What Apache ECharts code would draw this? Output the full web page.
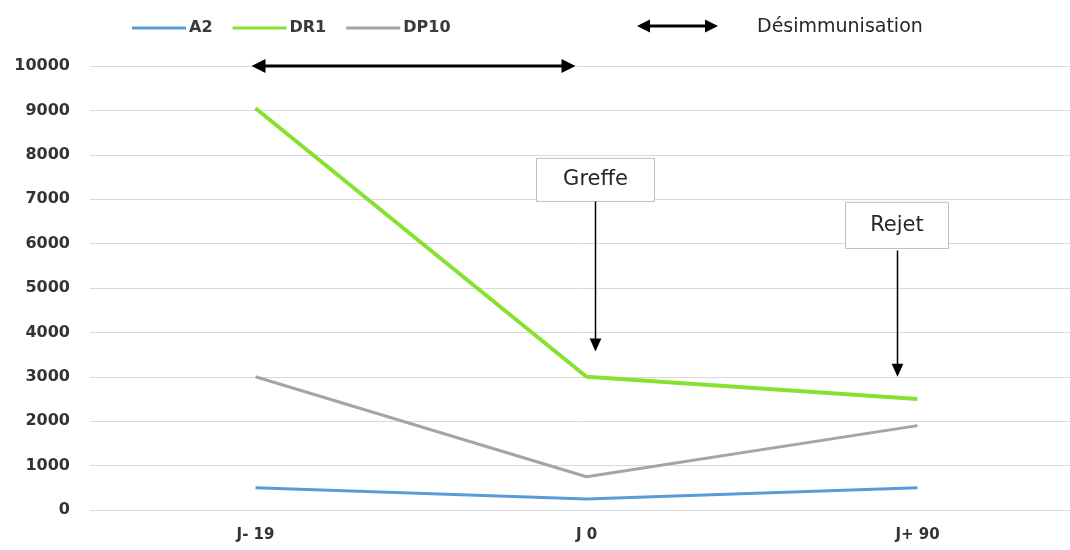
<!DOCTYPE html>
<html>
<head>
<meta charset="utf-8">
<script src="https://cdn.jsdelivr.net/npm/echarts@6/dist/echarts.min.js"></script>
<style>
html,body{margin:0;padding:0;background:#fff;}
#c{width:1070px;height:550px;}
</style>
</head>
<body>
<div id="c"></div>
<script>
const categories = ['J- 19', 'J 0', 'J+ 90'];
const a2Values = [500, 250, 500];
const dr1Values = [9050, 3000, 2500];
const dp10Values = [3000, 750, 1900];
const legendNames = ['A2', 'DR1', 'DP10'];
const legendExtra = 'Désimmunisation';
const annotations = ['Greffe', 'Rejet'];

const FONT = "'DejaVu Sans', sans-serif";
const chart = echarts.init(document.getElementById('c'), null, {renderer: 'canvas'});

const option = {
  backgroundColor: '#ffffff',
  animation: false,
  grid: {left: 90, top: 66, right: -13, bottom: 40, containLabel: false, outerBoundsMode: 'none'},
  legend: {
    data: legendNames.map(n => ({name: n, icon: 'rect'})),
    left: 127, top: 15,
    itemWidth: 54, itemHeight: 3, itemGap: 20,
    textStyle: {fontFamily: FONT, fontSize: 16, fontWeight: 'bold', color: '#3a3a3a', padding: [0, 0, 0, -2]}
  },
  xAxis: {
    type: 'category', data: categories, boundaryGap: true,
    axisLine: {show: true, lineStyle: {color: '#d9d9d9', width: 1}},
    axisTick: {show: false},
    axisLabel: {fontFamily: FONT, fontSize: 15, fontWeight: 'bold', color: '#333', margin: 18}
  },
  yAxis: {
    type: 'value', min: 0, max: 10000, interval: 1000,
    axisLine: {show: false}, axisTick: {show: false},
    splitLine: {lineStyle: {color: '#d9d9d9', width: 1}},
    axisLabel: {fontFamily: FONT, fontSize: 16, fontWeight: 'bold', color: '#333', margin: 20, formatter: v => String(v)}
  },
  series: [
    {name: 'A2', type: 'line', data: a2Values, symbol: 'none', lineStyle: {color: '#5b9bd5', width: 3}, itemStyle: {color: '#5b9bd5'}, z: 3},
    {name: 'DR1', type: 'line', data: dr1Values, symbol: 'none', lineStyle: {color: '#86e22e', width: 4}, itemStyle: {color: '#86e22e'}, z: 4},
    {name: 'DP10', type: 'line', data: dp10Values, symbol: 'none', lineStyle: {color: '#a5a5a5', width: 3}, itemStyle: {color: '#a5a5a5'}, z: 2}
  ]
};
chart.setOption(option);

function hArrow(x1, x2, y, w, head) {
  return [
    {type: 'line', shape: {x1: x1 + head - 2, y1: y, x2: x2 - head + 2, y2: y}, style: {stroke: '#000', lineWidth: w}, z: 100},
    {type: 'polygon', shape: {points: [[x1, y], [x1 + head, y - head / 2], [x1 + head, y + head / 2]]}, style: {fill: '#000'}, z: 100},
    {type: 'polygon', shape: {points: [[x2, y], [x2 - head, y - head / 2], [x2 - head, y + head / 2]]}, style: {fill: '#000'}, z: 100}
  ];
}
function vArrow(x, y1, y2, w, head) {
  return [
    {type: 'line', shape: {x1: x, y1: y1, x2: x, y2: y2 - head + 2}, style: {stroke: '#000', lineWidth: w}, z: 100},
    {type: 'polygon', shape: {points: [[x, y2], [x - head * 0.45, y2 - head], [x + head * 0.45, y2 - head]]}, style: {fill: '#000'}, z: 100}
  ];
}
function box(x, top, w, h, text) {
  return [
    {type: 'rect', shape: {x: x, y: top, width: w, height: h}, style: {fill: '#fff', stroke: '#bfbfbf', lineWidth: 1}, z: 99},
    {type: 'text', x: x + w / 2, y: top + h / 2, style: {text: text, font: "21px " + FONT, fill: '#262626', align: 'center', verticalAlign: 'middle'}, z: 101}
  ];
}

const px = (i, v) => chart.convertToPixel({gridIndex: 0}, [i, v]);
const p0 = px(0, 10000), p1 = px(1, 10000), p2 = px(2, 10000);
const yOf = v => px(0, v)[1];

let g = [];
// legend double arrow
g = g.concat(hArrow(637, 718, 26, 3, 13));
g.push({type: 'text', x: 757, y: 27, style: {text: legendExtra, font: "19px " + FONT, fill: '#262626', verticalAlign: 'middle'}, z: 100});
// chart double arrow
g = g.concat(hArrow(p0[0] - 4, p1[0] - 11, p0[1], 3, 14));
// Greffe
const gTop = yOf(7920), gBot = yOf(6950);
g = g.concat(box(p1[0] - 50, gTop, 118, gBot - gTop, annotations[0]));
g = g.concat(vArrow(p1[0] + 9, gBot, yOf(3570), 1.5, 13));
// Rejet
const rTop = yOf(6930), rBot = yOf(5890);
g = g.concat(box(p2[0] - 72, rTop, 103, rBot - rTop, annotations[1]));
g = g.concat(vArrow(p2[0] - 20, rBot + 2, yOf(3000), 1.5, 13));

chart.setOption({graphic: {elements: g}});
</script>
</body>
</html>
